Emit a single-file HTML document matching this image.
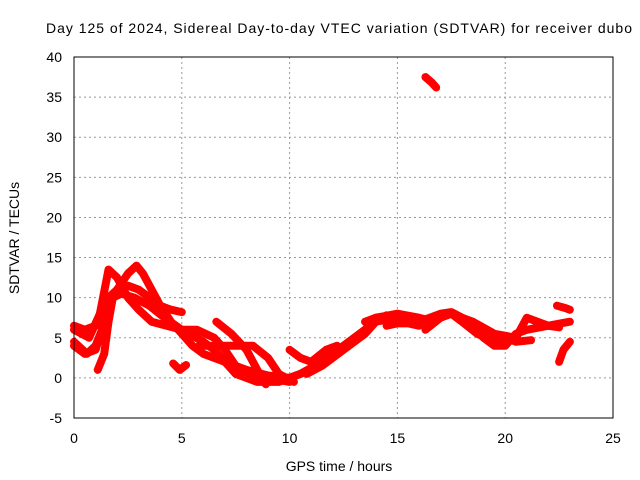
<!DOCTYPE html>
<html><head><meta charset="utf-8"><style>
body{margin:0;background:#fff}
svg{display:block;font-family:"Liberation Sans",sans-serif}
</style></head><body>
<svg id="c" width="640" height="480">
<text x="46" y="33" font-size="14" textLength="586" lengthAdjust="spacing">Day 125 of 2024, Sidereal Day-to-day VTEC variation (SDTVAR) for receiver dubo</text>
<text x="339" y="471" text-anchor="middle" font-size="14">GPS time / hours</text>
<text transform="translate(19,238) rotate(-90)" text-anchor="middle" font-size="14">SDTVAR / TECUs</text>
<g id="grid"></g><g id="marks"></g>
<rect x="74" y="57" width="539" height="361" fill="none" stroke="#000" stroke-width="1"/>
</svg>
<script>
const xTicks=[0,5,10,15,20,25];
const yTicks=[-5,0,5,10,15,20,25,30,35,40];
const track1=[[0,6.5],[0.5,6],[1,6.5],[1.3,8],[1.6,10],[2,11],[2.5,11.5],[3,11],[3.5,10],[4,9],[4.5,8.5],[5,8.2]];
const track2=[[0,4],[0.5,3],[1,3.5],[1.3,6],[1.6,9],[2,11],[2.5,13],[2.9,14],[3.2,13],[3.6,11],[4,9],[4.5,7],[5,5.5],[5.5,4],[6,3],[7,2],[8,1],[9,0.3],[10,0],[11,1],[12,3],[13,5],[14,7],[15,7.5],[16,7.2],[16.5,6.5]];
const track3=[[0,6],[0.7,5],[1.2,8],[1.6,13.5],[2,12.5],[2.5,10],[3,8.5],[3.6,7],[4.3,6.5],[5,6],[5.7,6],[6.5,5],[7,3.5],[7.5,1.5],[8,0.5],[9,0],[10,-0.5]];
const track4=[[1.1,1],[1.4,3],[1.6,7],[1.8,10],[2.2,10.5],[2.8,10],[3.5,9],[4.2,7.5],[5,6],[6,4.5],[6.5,3.5],[7,2],[7.5,0.5],[8.5,-0.5],[9.5,-0.5],[10.5,0.5],[11.5,2],[12.5,4],[13.5,6],[14,7.5],[15,8],[16,7.5],[16.7,7]];
const track5=[[0,4.5],[0.6,3],[1,4],[1.3,6]];
const track6=[[6.6,7],[7.3,5.5],[8,3.5],[8.5,1],[8.9,-0.8]];
const track7=[[5.8,4],[6.5,4],[7.5,4],[8.3,4],[9,2.5],[9.5,0.5],[10.2,-0.5]];
const track8=[[10,3.5],[10.5,2.5],[11,2],[11.7,3.5],[12.2,4]];
const track9=[[13.5,7],[14,7.5],[15,7.5],[15.5,7.5],[16,7],[16.5,7.5],[17,8],[17.5,8.2],[18,7.5],[18.5,6.5],[19,5],[19.5,4],[20,4],[20.5,5.5],[21,6],[22,6.5],[23,7]];
const track10=[[16.3,6],[17,7.5],[17.5,8],[18.5,7],[19.5,5.5],[20.5,5],[21,7.5],[21.5,7],[22,6.5],[22.5,6.3]];
const track11=[[17.5,8],[18,7],[18.7,5.5],[19.5,4.5],[20,5],[20.5,4.5],[21.2,4.7]];
const track12=[[22.4,9],[22.8,8.7],[23,8.5]];
const track13=[[22.5,2],[22.7,3.5],[23,4.5]];
const track14=[[4.6,1.8],[4.9,1],[5.2,1.6]];
const track15=[[16.3,37.5],[16.6,36.8],[16.8,36.2]];
const track16=[[10.8,0.5],[11.5,1.5],[12.5,3.5],[13.5,5.5],[14,7],[14.5,7.8],[15.5,7],[16,6.8]];
const track17=[[14.5,6.5],[15,6.8],[15.5,6.8],[16,6.5]];
const tracks=[track1,track2,track3,track4,track5,track6,track7,track8,track9,track10,track11,track12,track13,track14,track15,track16,track17];
const X=h=>74+h*539/25, Y=v=>418-(v+5)*361/45;
const NS="http://www.w3.org/2000/svg";
const g=document.getElementById('grid'), m=document.getElementById('marks');
function el(t,a,p){const e=document.createElementNS(NS,t);for(const k in a)e.setAttribute(k,a[k]);p.appendChild(e);return e;}
xTicks.forEach(t=>{
 if(t>0&&t<25){const l=el('line',{x1:X(t),x2:X(t),y1:57,y2:418,stroke:'#999','stroke-dasharray':'2,3'},g);
 
 }
 const s=el('text',{x:X(t),y:443,'text-anchor':'middle','font-size':14},g);s.textContent=t;
 
 
});
yTicks.forEach(t=>{
 if(t>-5&&t<40){const l=el('line',{x1:74,x2:613,y1:Y(t),y2:Y(t),stroke:'#999','stroke-dasharray':'2,3'},g);
 
 }
 const s=el('text',{x:62,y:Y(t)+5,'text-anchor':'end','font-size':14},g);s.textContent=t;
 
 
});
tracks.forEach((tr,i)=>{
 const p=el('polyline',{points:tr.map(d=>X(d[0])+','+Y(d[1])).join(' '),fill:'none',stroke:'#f00','stroke-width':8,'stroke-linejoin':'round','stroke-linecap':'round'},m);
 
 
});
</script>
</body></html>
